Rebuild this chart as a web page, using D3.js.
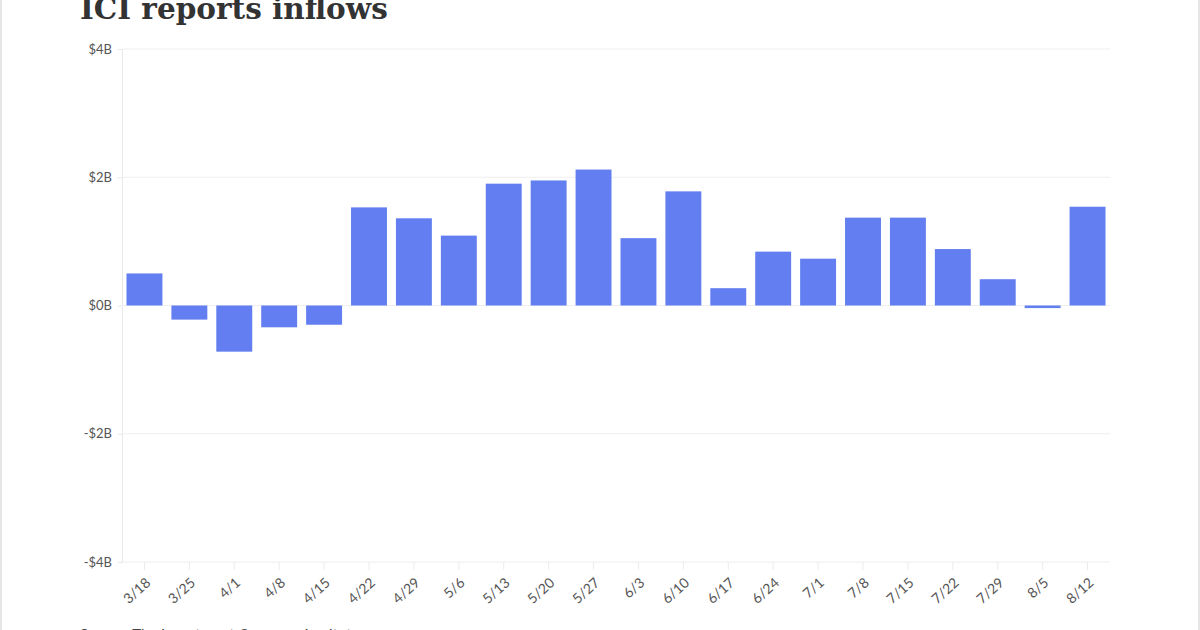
<!DOCTYPE html>
<html><head><meta charset="utf-8">
<script src="https://cdn.jsdelivr.net/npm/d3@7"></script>
<style>
html,body{margin:0;padding:0;background:#fff;overflow:hidden}
svg{display:block}
</style></head>
<body>
<svg id="c" width="1200" height="630"></svg>
<script>
const categories = ["3/18","3/25","4/1","4/8","4/15","4/22","4/29","5/6","5/13","5/20","5/27","6/3","6/10","6/17","6/24","7/1","7/8","7/15","7/22","7/29","8/5","8/12"];
const inflows = [0.50,-0.22,-0.72,-0.34,-0.30,1.53,1.36,1.09,1.90,1.95,2.12,1.05,1.78,0.27,0.84,0.73,1.37,1.37,0.88,0.41,-0.04,1.54];
const yTicks = [-4,-2,0,2,4];
const yTickLabels = ["-$4B","-$2B","$0B","$2B","$4B"];
const title = "ICI reports inflows";
const source = "Source: The Investment Company Institute";

const svg = d3.select("#c");
const W = 1200, H = 630;
const m = {left:122, right:1110, top:49, bottom:562};

// page borders
svg.append("line").attr("x1",1).attr("x2",1).attr("y1",0).attr("y2",H).attr("stroke","#e6e6e6").attr("stroke-width",2);
svg.append("line").attr("x1",1199).attr("x2",1199).attr("y1",0).attr("y2",H).attr("stroke","#e6e6e6").attr("stroke-width",2);

const x = d3.scaleBand().domain(categories).range([m.left, m.right]).paddingInner(0.2).paddingOuter(0.1);
const y = d3.scaleLinear().domain([-4,4]).range([m.bottom, m.top]);

// title
svg.append("text").attr("x",80).attr("y",19).text(title)
  .attr("font-family","'DejaVu Serif', 'Liberation Serif', serif").attr("font-weight","bold")
  .attr("font-size",29.5).attr("fill","#333");

// y axis
const yAxis = d3.axisLeft(y).tickValues(yTicks).tickSize(4).tickPadding(6)
  .tickFormat(d=>yTickLabels[yTicks.indexOf(d)]);
const gy = svg.append("g").attr("transform",`translate(${m.left},0)`).call(yAxis);
gy.select(".domain").attr("stroke","#e8e8e8");
gy.selectAll(".tick line").attr("stroke","#e8e8e8");
gy.selectAll("text").attr("font-family","Lato, sans-serif").attr("font-size",13).attr("fill","#555");

// grid
svg.append("g").selectAll("line").data(yTicks).join("line")
  .attr("x1",m.left).attr("x2",m.right).attr("y1",d=>y(d)).attr("y2",d=>y(d))
  .attr("stroke","#eeeeee").attr("stroke-width",1);

// x axis
const xAxis = d3.axisBottom(x).tickSize(8).tickPadding(4);
const gx = svg.append("g").attr("transform",`translate(0,${m.bottom})`).call(xAxis);
gx.select(".domain").remove();
gx.selectAll(".tick line").attr("stroke","#ececec");
gx.selectAll("text").attr("font-family","Lato, sans-serif").attr("font-size",14).attr("fill","#555")
  .attr("text-anchor","end").attr("x",0).attr("y",0).attr("dy",0)
  .attr("transform","translate(7,22) rotate(-42)");

// bars
svg.append("g").selectAll("rect").data(inflows).join("rect")
  .attr("x",(d,i)=>x(categories[i]))
  .attr("width",x.bandwidth())
  .attr("y",d=>y(Math.max(0,d)))
  .attr("height",d=>Math.abs(y(d)-y(0)))
  .attr("fill","#627ef0");

// source
svg.append("text").attr("x",80).attr("y",640).text(source)
  .attr("font-family","Lato, sans-serif").attr("font-size",15).attr("fill","#444");
</script>
</body></html>
